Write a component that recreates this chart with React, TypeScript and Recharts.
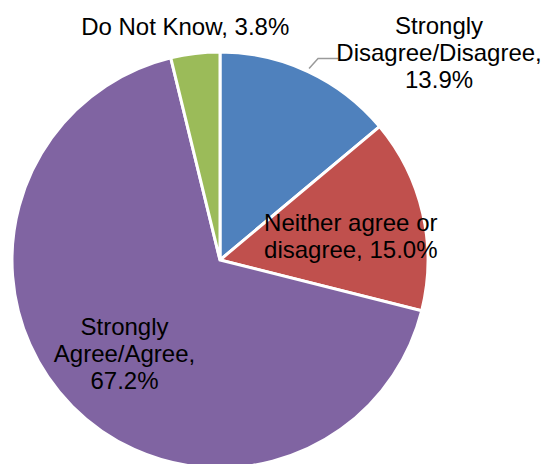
import { PieChart, Pie, Cell } from "recharts";

const categories = [
  "Strongly Disagree/Disagree",
  "Neither agree or disagree",
  "Strongly Agree/Agree",
  "Do Not Know",
];
const percentages = [13.9, 15.0, 67.2, 3.8];
const labelLines = [
  ["Strongly", "Disagree/Disagree,", "13.9%"],
  ["Neither agree or", "disagree, 15.0%"],
  ["Strongly", "Agree/Agree,", "67.2%"],
  ["Do Not Know, 3.8%"],
];
const colors = ["#4F81BD", "#C0504D", "#8064A2", "#9BBB59"];

// label placement: radius as a fraction of outerRadius, plus pixel nudge
const labelLayout = [
  { r: 1, dx: 131, dy: -19, leader: true },
  { r: 0.64, dx: 1, dy: 6, leader: false },
  { r: 0.64, dx: -1, dy: 0, leader: false },
  { r: 1, dx: -10, dy: -27, leader: false },
];

const data = categories.map((name, i) => ({ name, value: percentages[i] }));

const RADIAN = Math.PI / 180;
const FONT = 24;
const LINE_H = 27;

function renderLabel(props: any) {
  const { cx, cy, midAngle, outerRadius, index } = props;
  const layout = labelLayout[index];
  const lines = labelLines[index];
  const r = outerRadius * layout.r;
  const px = cx + r * Math.cos(-midAngle * RADIAN);
  const py = cy + r * Math.sin(-midAngle * RADIAN);
  const x = px + layout.dx;
  const y = py + layout.dy;
  const firstBaseline = y - ((lines.length - 1) * LINE_H) / 2 + FONT * 0.36;
  return (
    <g key={`lbl-${index}`}>
      {layout.leader && (
        <polyline
          points={`${px + 1},${py - 3} ${px + 10},${py - 13} ${px + 30},${py - 13}`}
          fill="none"
          stroke="#9a9a9a"
          strokeWidth={1.5}
        />
      )}
      <text
        x={x}
        y={firstBaseline}
        textAnchor="middle"
        fill="#000"
        fontSize={FONT}
        fontFamily="'Liberation Sans', Arial, sans-serif"
      >
        {lines.map((ln, i) => (
          <tspan key={i} x={x} dy={i === 0 ? 0 : LINE_H}>
            {ln}
          </tspan>
        ))}
      </text>
    </g>
  );
}

export default function App() {
  return (
    <div style={{ position: "absolute", left: 0, top: 0, width: 546, height: 464, background: "#fff" }}>
      <PieChart width={546} height={464} margin={{ top: 0, right: 0, bottom: 0, left: 0 }}>
        <Pie
          data={data}
          dataKey="value"
          nameKey="name"
          cx={220}
          cy={260}
          outerRadius={208}
          startAngle={90}
          endAngle={-270}
          stroke="#fff"
          strokeWidth={3}
          label={renderLabel}
          labelLine={false}
          isAnimationActive={false}
        >
          {data.map((d, i) => (
            <Cell key={d.name} fill={colors[i]} />
          ))}
        </Pie>
      </PieChart>
    </div>
  );
}
